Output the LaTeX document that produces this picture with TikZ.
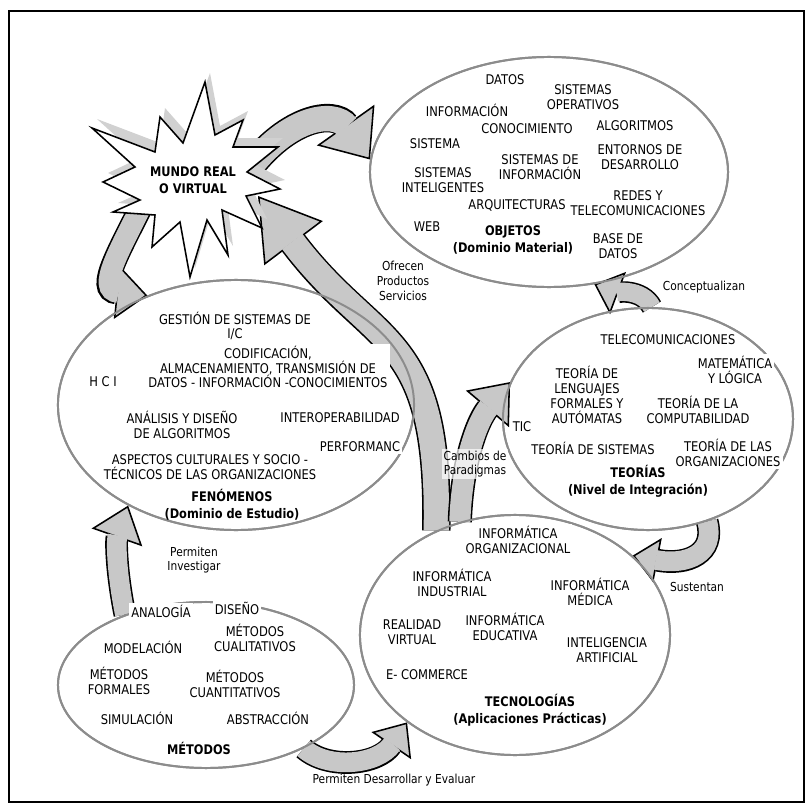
\documentclass[tikz,border=0pt]{standalone}
\usepackage{fontspec}
\setmainfont{DejaVu Sans}[FakeStretch=0.86]
\usepackage{tikz}
\usetikzlibrary{shapes.geometric}
\usetikzlibrary{arrows.meta}

\definecolor{flechagris}{RGB}{200,200,200}
\definecolor{bordegris}{RGB}{140,140,140}

\begin{document}
\begin{tikzpicture}[x=0.025cm, y=-0.025cm,
    caja/.style={fill=white, inner sep=1.5pt, align=center, font=\fontsize{9.5}{10.5}\selectfont},
    titulo/.style={caja, fill=none, font=\fontsize{9.4}{12}\selectfont\bfseries},
    rotulo/.style={align=center, inner sep=1pt, font=\fontsize{8.8}{10.5}\selectfont},
    dominio/.style={ellipse, draw=bordegris, line width=1.4pt, fill=white, inner sep=0pt},
    contorno/.style={draw=bordegris, line width=1.4pt},
    borde/.style={draw=black},
    cuerpo/.style={draw=flechagris}]

      \useasboundingbox (0,0) rectangle (812,809);
      \draw[line width=1pt] (9,11) rectangle (804,802);

      % shaft width, head length, head width, path
      \def\flecha#1#2#3#4{
        \draw[borde, line width=#1+2.2pt, -{Triangle[length=#2 0 0, width=#3 0 0, line width=1.1pt 0 0, fill=flechagris]}] #4;
        \draw[cuerpo, line width=#1, shorten >=#2-1.5pt] #4;
      }

      \node[dominio, minimum width=8.95cm, minimum height=5.75cm] (obj) at (549,172) {};
      \node[dominio, minimum width=8.9cm, minimum height=6.25cm] (fen) at (236,405) {};
      \node[dominio, minimum width=7.25cm, minimum height=5.55cm] (teo) at (648,419) {};
      \node[dominio, minimum width=7.75cm, minimum height=6cm] (tec) at (515,635) {};
      \node[dominio, minimum width=7.4cm, minimum height=4.15cm] (met) at (206,685) {};

      \node[font=\fontsize{9.4}{12}\selectfont\bfseries, align=center] (mundo) at (193,180) {MUNDO REAL\\O VIRTUAL};
      \coordinate (impacto) at (258,196);

      \flecha{18pt}{30pt}{50pt}{(mundo.east) .. controls (285,115) and (335,110) .. (obj.176)}
      \flecha{15pt}{22pt}{38pt}{(mundo.south west) .. controls (120,250) and (95,290) .. (fen.129)}
      \flecha{18pt}{42pt}{52pt}{(tec.127) .. controls (440,329) and (374,350) .. (impacto)}
      \flecha{15pt}{25pt}{40pt}{(tec.116) .. controls (462,460) and (478,420) .. (teo.165)}
      \flecha{13pt}{18pt}{32pt}{(teo.88) .. controls (642,288) and (615,292) .. (obj.292)}
      \flecha{14pt}{18pt}{32pt}{(teo.300) .. controls (716,553) and (688,566) .. (tec.34)}
      \flecha{14pt}{24pt}{38pt}{(met.139) .. controls (116,570) and (116,540) .. (fen.223)}
      \flecha{14pt}{20pt}{34pt}{(met.327) .. controls (328,770) and (378,765) .. (tec.219)}

      \draw[contorno] (obj.center) ellipse [x radius=4.475cm, y radius=2.875cm];
      \draw[contorno] (fen.center) ellipse [x radius=4.45cm, y radius=3.125cm];
      \draw[contorno] (teo.center) ellipse [x radius=3.625cm, y radius=2.775cm];
      \draw[contorno] (tec.center) ellipse [x radius=3.875cm, y radius=3cm];
      \draw[contorno] (met.center) ellipse [x radius=3.7cm, y radius=2.075cm];

      % explosion
      \draw[line width=1.1pt, fill=white, preaction={fill=black!18, transform canvas={shift={(5,-9)}}}]
        (92,128) -- (155,152) -- (160,117) -- (183,143) -- (205,82) -- (215,135)
        -- (243,120) -- (233,147) -- (278,147) -- (247,172) -- (280,189) -- (246,196)
        -- (262,228) -- (222,210) -- (228,255) -- (207,220) -- (190,277) -- (180,222)
        -- (152,247) -- (155,215) -- (113,212) -- (140,200) -- (103,182) -- (135,167) -- cycle;
      \node[font=\fontsize{9.4}{12}\selectfont\bfseries, align=center] at (mundo) {MUNDO REAL\\O VIRTUAL};

      % objetos
      \node[caja] (datos) at (505,80) {DATOS};
      \node[caja] (sisop) at (583,97) {SISTEMAS\\OPERATIVOS};
      \node[caja] (informacion) at (467,110) {INFORMACIÓN};
      \node[caja] (conocimiento) at (527,129) {CONOCIMIENTO};
      \node[caja] (algoritmos) at (635,126) {ALGORITMOS};
      \node[caja] (sistema) at (435,144) {SISTEMA};
      \node[caja] (entornos) at (640,157) {ENTORNOS DE\\DESARROLLO};
      \node[caja] (sisinf) at (540,167) {SISTEMAS DE\\INFORMACIÓN};
      \node[caja] (sisint) at (443,180) {SISTEMAS\\INTELIGENTES};
      \node[caja] (redes) at (638,203) {REDES Y\\TELECOMUNICACIONES};
      \node[caja] (arquitecturas) at (517,205) {ARQUITECTURAS};
      \node[caja] (web) at (427,227) {WEB};
      \node[titulo] (objetos) at (513,240) {OBJETOS\\(Dominio Material)};
      \node[caja] (basedatos) at (618,246) {BASE DE\\DATOS};

      % fenomenos
      \node[caja] (gestion) at (235,326) {GESTIÓN DE SISTEMAS DE\\I/C};
      \node[caja] (codificacion) at (268,367) {CODIFICACIÓN,\\ALMACENAMIENTO, TRANSMISIÓN DE\\DATOS - INFORMACIÓN -CONOCIMIENTOS};
      \node[caja] (hci) at (103,382) {H C I};
      \node[caja] (analisis) at (182,425) {ANÁLISIS Y DISEÑO\\DE ALGORITMOS};
      \node[caja] (interop) at (340,418) {INTEROPERABILIDAD};
      \node[caja] (performanc) at (360,447) {PERFORMANC};
      \node[caja] (aspectos) at (210,467) {ASPECTOS CULTURALES Y SOCIO -\\TÉCNICOS DE LAS ORGANIZACIONES};
      \node[titulo] (fenomenos) at (232,505) {FENÓMENOS\\(Dominio de Estudio)};

      % teorias
      \node[caja] (telecom) at (668,340) {TELECOMUNICACIONES};
      \node[caja] (matematica) at (735,370) {MATEMÁTICA\\Y LÓGICA};
      \node[caja] (computabilidad) at (698,410) {TEORÍA DE LA\\COMPUTABILIDAD};
      \node[caja] (lenguajes) at (587,395) {TEORÍA DE\\LENGUAJES\\FORMALES Y\\AUTÓMATAS};
      \node[caja] (tic) at (522,427) {TIC};
      \node[caja] (tsistemas) at (593,448) {TEORÍA DE SISTEMAS};
      \node[caja] (torganizaciones) at (728,453) {TEORÍA DE LAS\\ORGANIZACIONES};
      \node[titulo] (teorias) at (638,481) {TEORÍAS\\(Nivel de Integración)};

      % tecnologias
      \node[caja] (iorg) at (518,540) {INFORMÁTICA\\ORGANIZACIONAL};
      \node[caja] (iind) at (452,583) {INFORMÁTICA\\INDUSTRIAL};
      \node[caja] (imed) at (590,592) {INFORMÁTICA\\MÉDICA};
      \node[caja] (realidad) at (412,632) {REALIDAD\\VIRTUAL};
      \node[caja] (iedu) at (505,627) {INFORMÁTICA\\EDUCATIVA};
      \node[caja] (ia) at (607,650) {INTELIGENCIA\\ARTIFICIAL};
      \node[caja] (ecommerce) at (427,675) {E- COMMERCE};
      \node[titulo] (tecnologias) at (530,710) {TECNOLOGÍAS\\(Aplicaciones Prácticas)};

      % metodos
      \node[caja] (analogia) at (161,611) {ANALOGÍA};
      \node[caja] (diseno) at (237,608) {DISEÑO};
      \node[caja] (modelacion) at (143,647) {MODELACIÓN};
      \node[caja] (mcual) at (255,638) {MÉTODOS\\CUALITATIVOS};
      \node[caja] (mform) at (119,681) {MÉTODOS\\FORMALES};
      \node[caja] (mcuan) at (235,684) {MÉTODOS\\CUANTITATIVOS};
      \node[caja] (simulacion) at (137,718) {SIMULACIÓN};
      \node[caja] (abstraccion) at (268,718) {ABSTRACCIÓN};
      \node[titulo] (metodos) at (199,748) {MÉTODOS};

      % rotulos de las flechas
      \node[rotulo] (ofrecen) at (403,281) {Ofrecen\\Productos\\Servicios};
      \node[rotulo] (conceptualizan) at (704,287) {Conceptualizan};
      \node[rotulo, fill=white, fill opacity=0.7, text opacity=1] (cambios) at (475,464) {Cambios de\\Paradigmas};
      \node[rotulo] (sustentan) at (697,587) {Sustentan};
      \node[rotulo] (investigar) at (194,560) {Permiten\\Investigar};
      \node[rotulo] (desarrollar) at (394,780) {Permiten Desarrollar y Evaluar};
    \end{tikzpicture}
\end{document}
